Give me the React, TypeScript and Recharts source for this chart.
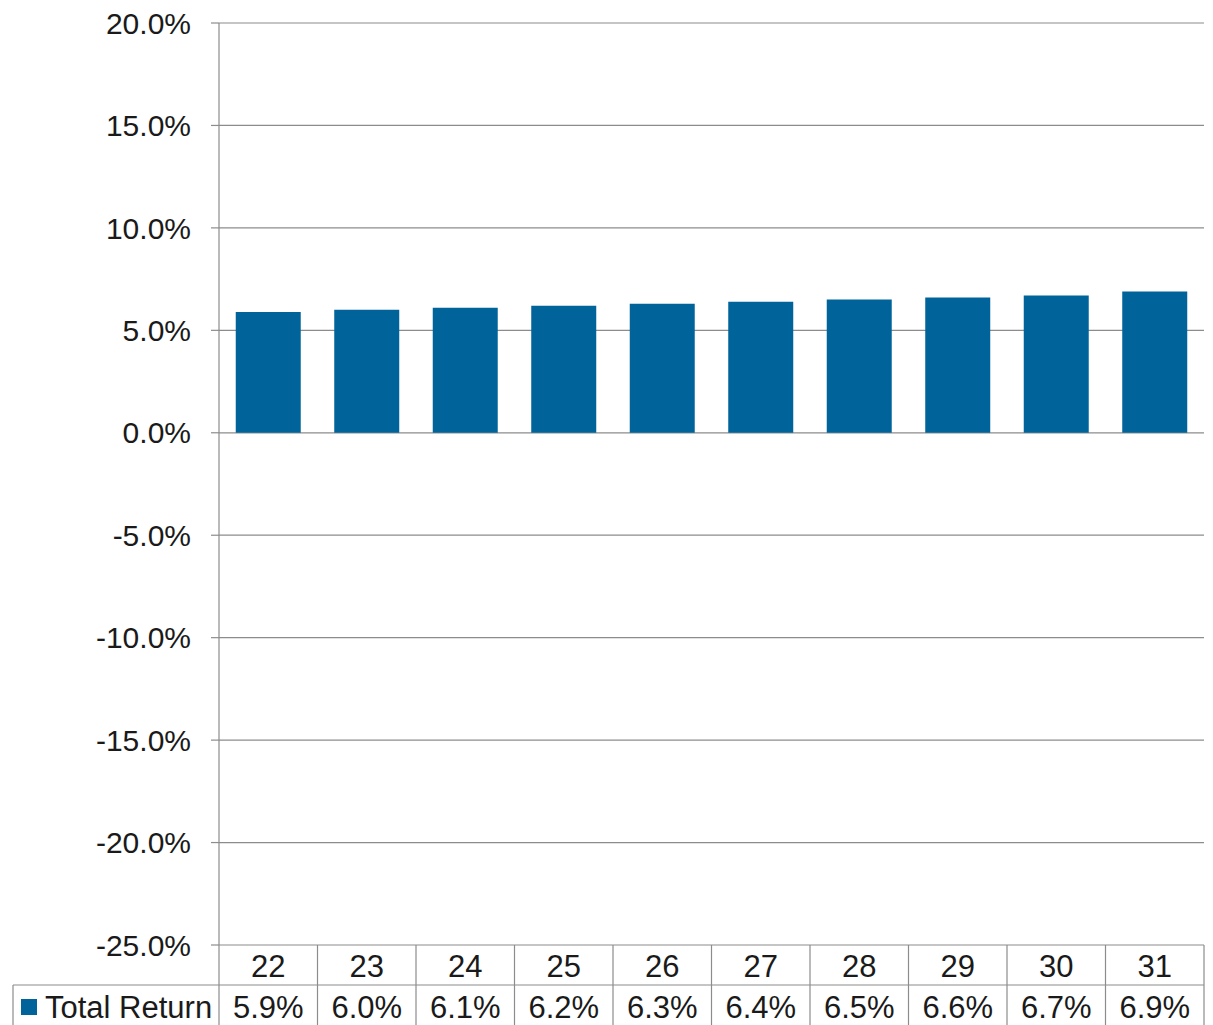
import React from "react";
import { BarChart, Bar, XAxis, YAxis, CartesianGrid } from "recharts";

const categories = ["22", "23", "24", "25", "26", "27", "28", "29", "30", "31"];
const totalReturn = [5.9, 6.0, 6.1, 6.2, 6.3, 6.4, 6.5, 6.6, 6.7, 6.9];
const yTicks = [-25, -20, -15, -10, -5, 0, 5, 10, 15, 20];
const seriesName = "Total Return";

const data = categories.map((c, i) => ({ cat: c, value: totalReturn[i] }));

const W = 1213;
const H = 1025;
const X_AXIS_H = 80;
const M = { top: 23, right: 9, bottom: 0, left: 0 };
const Y_AXIS_W = 219;
const PLOT_W = W - M.right - Y_AXIS_W;
const HALF_CELL = PLOT_W / categories.length / 2;
const PLOT_BOTTOM = H - X_AXIS_H;
const ROW_H = 40;
const TABLE_LEFT = 13;

const FONT = "'Liberation Sans', Arial, Helvetica, sans-serif";
const FS_Y = 30;
const FS_T = 31;
const TEXT = "#1a1a1a";
const LINE = "#8c8c8c";
const BLUE = "#00649b";

const TableTick = (props: any) => {
  const { x, payload, index } = props;
  const i = payload?.index ?? index ?? 0;
  const top = PLOT_BOTTOM;
  const mid = top + ROW_H;
  const bottom = H;
  return (
    <g>
      {i === 0 && (
        <g>
          <line x1={x - HALF_CELL} x2={x - HALF_CELL} y1={top} y2={bottom} stroke={LINE} strokeWidth={1.2} />
          <line x1={TABLE_LEFT} x2={TABLE_LEFT} y1={mid} y2={bottom} stroke={LINE} strokeWidth={1.2} />
          <line x1={TABLE_LEFT} x2={x - HALF_CELL} y1={mid} y2={mid} stroke={LINE} strokeWidth={1.2} />
          <rect x={21} y={999} width={16} height={16} fill={BLUE} />
          <text x={45} y={mid + 33} fontSize={FS_T} fill={TEXT} fontFamily={FONT}>
            {seriesName}
          </text>
        </g>
      )}
      <line x1={x + HALF_CELL} x2={x + HALF_CELL} y1={top} y2={bottom} stroke={LINE} strokeWidth={1.2} />
      <line x1={x - HALF_CELL} x2={x + HALF_CELL} y1={mid} y2={mid} stroke={LINE} strokeWidth={1.2} />
      <text x={x} y={top + 32} textAnchor="middle" fontSize={FS_T} fill={TEXT} fontFamily={FONT}>
        {payload.value}
      </text>
      <text x={x} y={mid + 33} textAnchor="middle" fontSize={FS_T} fill={TEXT} fontFamily={FONT}>
        {totalReturn[i].toFixed(1) + "%"}
      </text>
    </g>
  );
};

export default function App() {
  return (
    <div style={{ position: "absolute", left: 0, top: 0, width: W, height: H, background: "#fff" }}>
      <BarChart width={W} height={H} data={data} margin={M} barCategoryGap="17%">
        <CartesianGrid vertical={false} stroke={LINE} strokeWidth={1.2} />
        <XAxis
          dataKey="cat"
          axisLine={false}
          tickLine={false}
          height={X_AXIS_H}
          interval={0}
          tick={<TableTick />}
        />
        <YAxis
          type="number"
          domain={[-25, 20]}
          ticks={yTicks}
          width={Y_AXIS_W}
          allowDataOverflow
          tickFormatter={(v: number) => v.toFixed(1) + "%"}
          tickSize={8}
          tickMargin={20}
          axisLine={{ stroke: LINE, strokeWidth: 1.2 }}
          tickLine={{ stroke: LINE, strokeWidth: 1.2 }}
          tick={{ fontSize: FS_Y, fill: TEXT, fontFamily: FONT }}
        />
        <Bar dataKey="value" name={seriesName} fill={BLUE} isAnimationActive={false} />
      </BarChart>
    </div>
  );
}
